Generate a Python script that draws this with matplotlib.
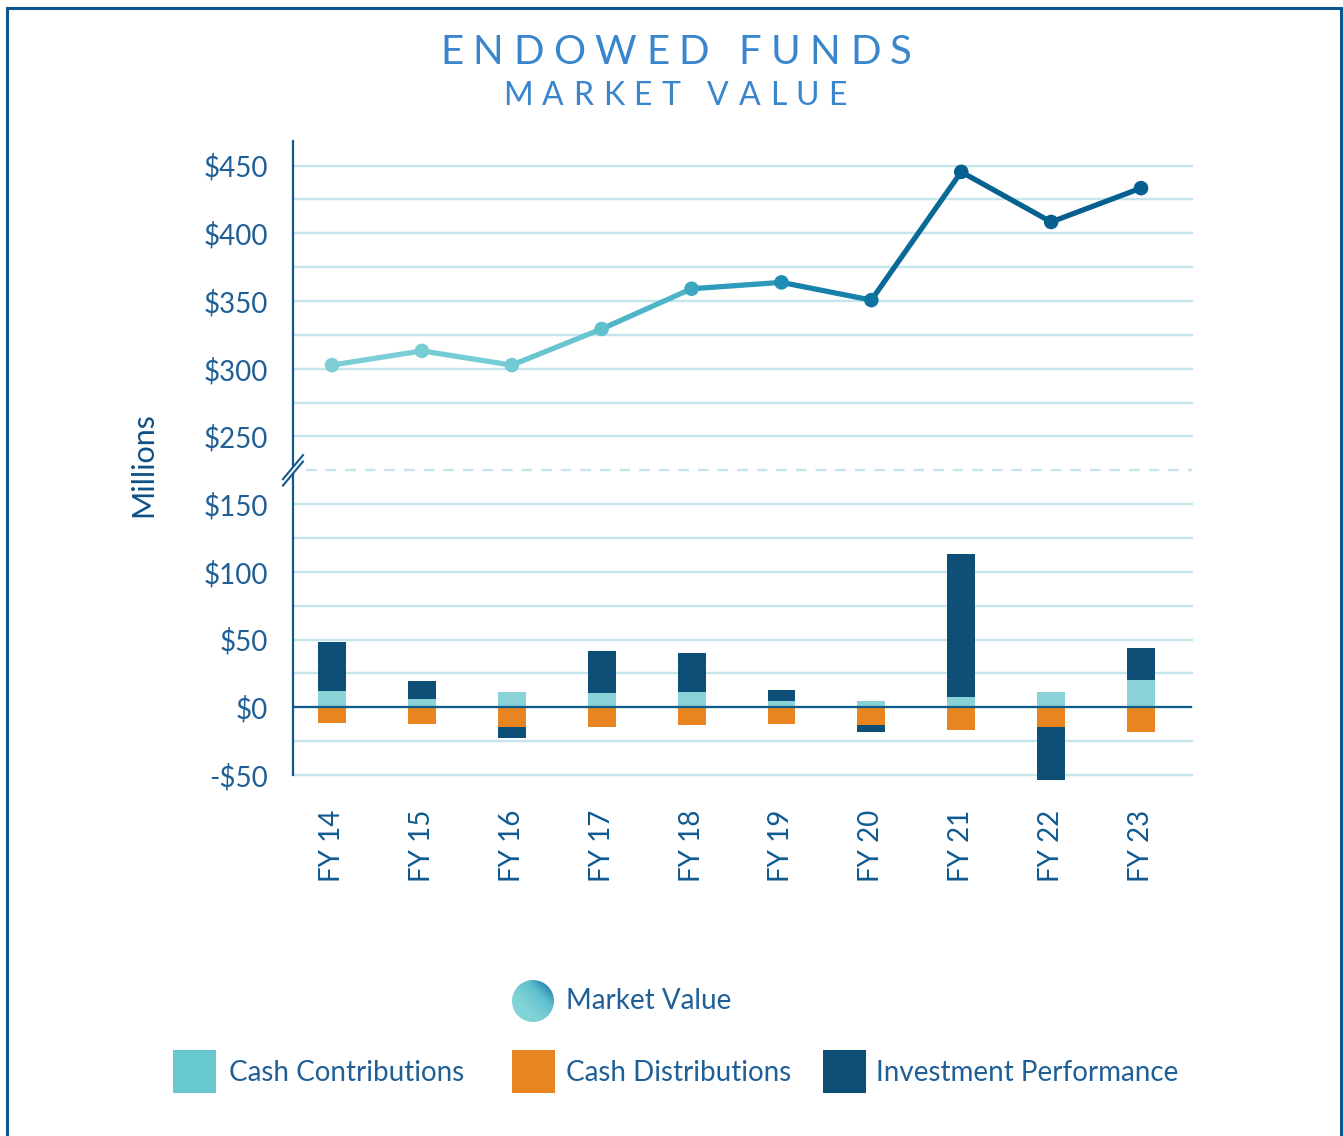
import numpy as np
import matplotlib
matplotlib.use('Agg')
import matplotlib.pyplot as plt
from matplotlib.patches import Rectangle, Circle
from matplotlib.lines import Line2D

# ---------------- data ----------------
years = ['FY 14', 'FY 15', 'FY 16', 'FY 17', 'FY 18', 'FY 19', 'FY 20', 'FY 21', 'FY 22', 'FY 23']
market_value = [302.7, 313.2, 302.7, 329.4, 359.1, 363.8, 350.7, 445.4, 408.4, 433.4]
cash_contributions = [12.3, 6.4, 11.5, 10.8, 11.5, 4.9, 4.9, 7.8, 11.5, 20.3]
cash_distributions = [-11.3, -12.0, -14.9, -14.9, -13.4, -12.7, -13.4, -16.4, -14.2, -18.6]
investment_performance = [36.0, 13.2, -8.1, 30.9, 28.7, 8.1, -5.2, 105.2, -39.7, 23.6]

y_ticks = [-50, 0, 50, 100, 150, 250, 300, 350, 400, 450]
y_ticklabels = ['-$50', '$0', '$50', '$100', '$150', '$250', '$300', '$350', '$400', '$450']

# ---------------- style ----------------
W, H = 1343, 1136
FONT = ['Lato', 'DejaVu Sans']
plt.rcParams['font.family'] = FONT

point_colors = ['#7ecfd5', '#78cdd3', '#72cad2', '#5fc0ce', '#3ea8c1',
                '#1e8db4', '#0d74a1', '#04618f', '#05608f', '#05608f']
C_CONTRIB = '#89d3d8'
C_CONTRIB_LEG = '#67c9cf'
C_DIST = '#e98520'
C_INV = '#0e4f78'
C_GRID = '#c3e5eb'
C_AXIS = '#135a8c'
C_TEXT = '#1f5f96'
C_TITLE = '#3a86cc'

fig = plt.figure(figsize=(W / 100, H / 100), dpi=100)


def fx(px):
    return px / W


def fy(py):
    return 1 - py / H


# axes placement (pixel box of plotting area)
left, right, top, bottom = 293, 1192, 141, 775
ax = fig.add_axes([fx(left), fy(bottom), fx(right - left), (bottom - top) / H])


# broken axis via a function scale: 175..225 collapsed
def fwd(v):
    v = np.asarray(v, dtype=float)
    return np.where(v <= 175, v, np.where(v >= 225, v - 50, 175.0))


def inv(u):
    u = np.asarray(u, dtype=float)
    return np.where(u <= 175, u, u + 50)


ax.set_yscale('function', functions=(fwd, inv))
YTOP = 468.2
ax.set_ylim(-50, YTOP)
x = np.arange(len(years))
ax.set_xlim(-0.434, len(years) - 1 + 0.567)

# grid lines
grid_vals = list(range(-50, 151, 25)) + list(range(250, 451, 25))
for g in grid_vals:
    ax.axhline(g, color=C_GRID, lw=1.7, zorder=1, clip_on=False)
ax.axhline(175, xmin=0.014, xmax=1, color=C_GRID, lw=1.7, ls=(0, (4.5, 3.8)), zorder=1)

# bars
contrib = np.array(cash_contributions)
dist = np.array(cash_distributions)
invest = np.array(investment_performance)
bw = 0.31
for bars in (ax.bar(x, contrib, bw, color=C_CONTRIB, lw=0, zorder=2),
             ax.bar(x, dist, bw, color=C_DIST, lw=0, zorder=2),
             ax.bar(x, invest, bw, bottom=np.where(invest > 0, contrib, dist),
                    color=C_INV, lw=0, zorder=2)):
    for b in bars:
        b.set_clip_on(False)
ax.axhline(0, color=C_AXIS, lw=1.6, zorder=4)

# market value line
mv = np.array(market_value)
for i in range(len(x) - 1):
    c1 = np.array(matplotlib.colors.to_rgb(point_colors[i]))
    c2 = np.array(matplotlib.colors.to_rgb(point_colors[i + 1]))
    ax.plot(x[i:i + 2], mv[i:i + 2], color=(c1 + c2) / 2, lw=3.8,
            solid_capstyle='round', zorder=5)
ax.scatter(x, mv, s=110, c=point_colors, zorder=6, linewidths=0)

# spines / ticks
for s in ['top', 'right', 'bottom']:
    ax.spines[s].set_visible(False)
ax.spines['left'].set_color(C_AXIS)
ax.spines['left'].set_linewidth(1.6)
ax.spines['left'].set_zorder(7)

ax.set_yticks(y_ticks)
ax.set_yticklabels(y_ticklabels)
ax.yaxis.set_minor_locator(matplotlib.ticker.NullLocator())
ax.set_xticks(x)
ax.set_xticklabels(years, rotation=90, va='top', ha='center')
ax.tick_params(axis='y', length=0, pad=18, labelsize=20, labelcolor=C_TEXT)
ax.tick_params(axis='x', length=0, pad=25, labelsize=20, labelcolor='#0f5a92')

# axis break marks
ax_w, ax_h = right - left, bottom - top
brk_y = (175 + 50) / (YTOP - 50 + 50)
dx, dy = 10 / ax_w, 12 / ax_h
ax.plot([-dx, dx], [brk_y - dy, brk_y + dy], transform=ax.transAxes, color='white',
        lw=3.5, clip_on=False, zorder=8)
for off in (-3.2 / ax_h, 3.2 / ax_h):
    ax.plot([-dx, dx], [brk_y - dy + off, brk_y + dy + off], transform=ax.transAxes,
            color=C_AXIS, lw=1.5, clip_on=False, zorder=9)

# y label
fig.text(fx(143), fy(465), 'Millions', rotation=90, ha='center', va='center',
         fontsize=22, color='#0e4f85')

# ---------------- title with letter spacing ----------------
renderer = fig.canvas.get_renderer()


def spaced_text(text, x0, x1, baseline, size, color):
    widths = []
    for ch in text:
        if ch == ' ':
            widths.append(size * 100 / 72 * 0.25)
        else:
            t = fig.text(0, 0, ch, fontsize=size, color=color)
            widths.append(t.get_window_extent(renderer).width)
            t.remove()
    n = len(text)
    sp = ((x1 - x0) - sum(widths)) / (n - 1)
    cur = x0
    for ch, w in zip(text, widths):
        if ch != ' ':
            fig.text(fx(cur), fy(baseline), ch, fontsize=size, color=color,
                     ha='left', va='baseline')
        cur += w + sp


spaced_text('ENDOWED FUNDS', 440, 912, 64, 29, C_TITLE)
spaced_text('MARKET VALUE', 503, 847, 105, 23, C_TITLE)

# ---------------- legend ----------------
# gradient circle
cax = fig.add_axes([fx(512), fy(1022), fx(42), 42 / H])
cax.axis('off')
g = np.linspace(0, 1, 200)
gx, gy = np.meshgrid(g, g)
grad = np.clip((gx + gy) / 2 * 1.6 - 0.55, 0, 1)
cmap = matplotlib.colors.LinearSegmentedColormap.from_list('mv', ['#80d3d6', '#5fc0ce', '#0b68a0'])
im = cax.imshow(grad, cmap=cmap, origin='lower', extent=(0, 1, 0, 1), aspect='auto')
circ = Circle((0.5, 0.5), 0.5, transform=cax.transAxes, facecolor='none', edgecolor='none')
cax.add_patch(circ)
im.set_clip_path(circ)
cax.set_xlim(0, 1)
cax.set_ylim(0, 1)

fig.text(fx(566), fy(1001), 'Market Value', fontsize=20, color=C_TEXT,
         ha='left', va='center')

legend_items = [(173, C_CONTRIB_LEG, 229, 'Cash Contributions'),
                (512, C_DIST, 566, 'Cash Distributions'),
                (823, C_INV, 876, 'Investment Performance')]
for sx, col, tx, lab in legend_items:
    fig.patches.append(Rectangle((fx(sx), fy(1093)), fx(43), 43 / H, transform=fig.transFigure,
                                 facecolor=col, edgecolor='none'))
    fig.text(fx(tx), fy(1073), lab, fontsize=20, color=C_TEXT, ha='left', va='center')

# frame (left, top, right)
fig.lines.append(Line2D([fx(6.5), fx(6.5), fx(1340.5), fx(1340.5)],
                        [fy(1140), fy(8), fy(8), fy(1140)], transform=fig.transFigure,
                        color='#0f558c', lw=2.2, solid_joinstyle='miter'))

fig.savefig('out.png', dpi=100)
